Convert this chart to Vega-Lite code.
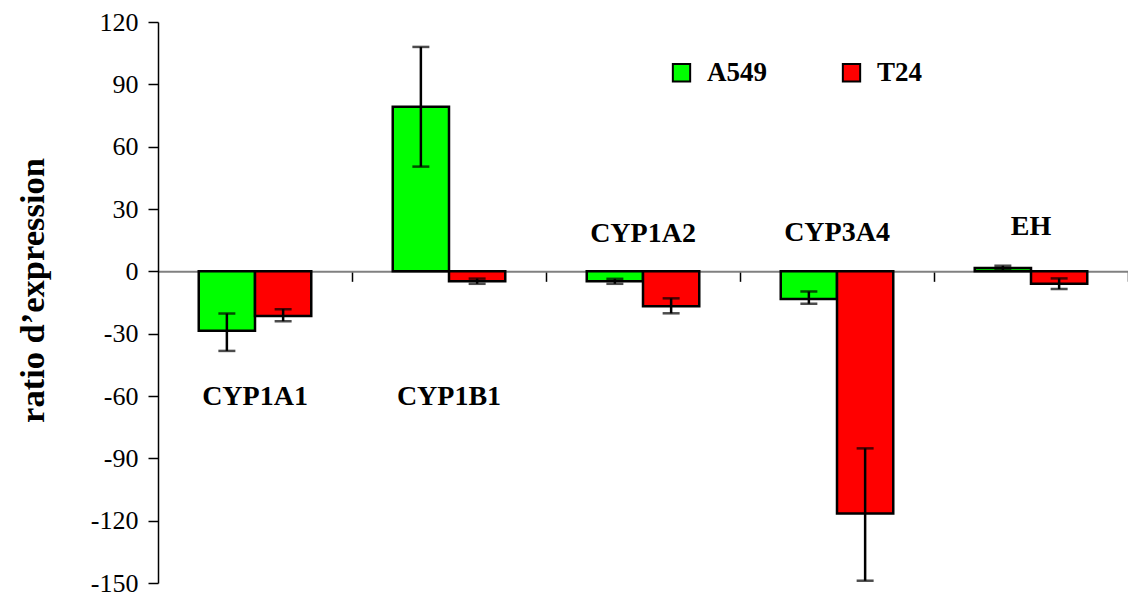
{
  "$schema": "https://vega.github.io/schema/vega-lite/v6.json",
  "width": 970,
  "height": 561,
  "autosize": {"type": "none"},
  "padding": {"left": 158, "top": 22, "right": 0, "bottom": 11},
  "background": "white",
  "config": {
    "view": {"stroke": null},
    "font": "Liberation Serif",
    "legend": {
      "orient": "none", "legendX": 510, "legendY": 37, "direction": "horizontal", "columns": 2,
      "symbolType": "square", "symbolSize": 300, "symbolStrokeColor": "black", "symbolStrokeWidth": 2,
      "labelFont": "Liberation Serif", "labelFontSize": 27, "labelFontWeight": "bold", "labelColor": "black",
      "columnPadding": 71, "labelOffset": 12, "padding": 0, "title": null
    }
  },
  "datasets": {
    "bars": [
      {"gene": "CYP1A1", "line": "A549", "value": -28.6, "lo": -38.3, "hi": -20.3},
      {"gene": "CYP1A1", "line": "T24", "value": -21.5, "lo": -24.0, "hi": -18.2},
      {"gene": "CYP1B1", "line": "A549", "value": 79.2, "lo": 50.4, "hi": 108.0},
      {"gene": "CYP1B1", "line": "T24", "value": -4.8, "lo": -6.0, "hi": -3.5},
      {"gene": "CYP1A2", "line": "A549", "value": -4.8, "lo": -6.0, "hi": -3.6},
      {"gene": "CYP1A2", "line": "T24", "value": -16.8, "lo": -20.2, "hi": -13.0},
      {"gene": "CYP3A4", "line": "A549", "value": -13.3, "lo": -15.6, "hi": -9.7},
      {"gene": "CYP3A4", "line": "T24", "value": -116.6, "lo": -148.9, "hi": -85.2},
      {"gene": "EH", "line": "A549", "value": 1.6, "lo": 0.5, "hi": 2.7},
      {"gene": "EH", "line": "T24", "value": -6.0, "lo": -8.5, "hi": -3.4}
    ],
    "labels": [
      {"gene": "CYP1A1", "ly": -60.5},
      {"gene": "CYP1B1", "ly": -60.5},
      {"gene": "CYP1A2", "ly": 18},
      {"gene": "CYP3A4", "ly": 18.5},
      {"gene": "EH", "ly": 21.5}
    ]
  },
  "layer": [
    {
      "data": {"name": "bars"},
      "mark": {"type": "bar", "stroke": "black", "strokeWidth": 2.5},
      "encoding": {
        "x": {
          "field": "gene", "type": "nominal",
          "scale": {"domain": ["CYP1A1", "CYP1B1", "CYP1A2", "CYP3A4", "EH"], "paddingInner": 0.42, "paddingOuter": 0.21},
          "axis": {
            "orient": "bottom", "offset": -311.67, "labels": false, "title": null,
            "domainColor": "#808080", "domainWidth": 2, "tickColor": "black", "tickSize": 10, "tickWidth": 1.5,
            "bandPosition": 1, "tickOffset": 40.7
          }
        },
        "xOffset": {"field": "line", "type": "nominal", "scale": {"domain": ["A549", "T24"], "paddingInner": 0, "paddingOuter": 0}},
        "y": {
          "field": "value", "type": "quantitative",
          "scale": {"domain": [-150, 120], "nice": false},
          "axis": {
            "title": "ratio d’expression", "titleFont": "Liberation Serif", "titleFontSize": 34.5, "titleFontWeight": "bold",
            "titleColor": "black", "titlePadding": 40, "titleY": 268,
            "values": [-150, -120, -90, -60, -30, 0, 30, 60, 90, 120],
            "labelExpr": "replace(datum.label, '−', '-')",
            "labelFont": "Liberation Serif", "labelFontSize": 26, "labelColor": "black", "labelPadding": 10,
            "tickSize": 10, "tickColor": "black", "tickWidth": 1.5, "domainColor": "black", "domainWidth": 1.5, "grid": false
          }
        },
        "color": {"field": "line", "type": "nominal", "scale": {"domain": ["A549", "T24"], "range": ["#00FF00", "#FF0000"]}}
      }
    },
    {
      "data": {"name": "bars"},
      "mark": {"type": "rule", "color": "black", "strokeWidth": 2.5},
      "encoding": {
        "x": {"field": "gene", "type": "nominal"},
        "xOffset": {"field": "line", "type": "nominal"},
        "y": {"field": "lo", "type": "quantitative", "title": "ratio d’expression"},
        "y2": {"field": "hi"}
      }
    },
    {
      "data": {"name": "bars"},
      "mark": {"type": "tick", "color": "black", "size": 17, "thickness": 2.5},
      "encoding": {
        "x": {"field": "gene", "type": "nominal"},
        "xOffset": {"field": "line", "type": "nominal"},
        "y": {"field": "lo", "type": "quantitative", "title": "ratio d’expression"}
      }
    },
    {
      "data": {"name": "bars"},
      "mark": {"type": "tick", "color": "black", "size": 17, "thickness": 2.5},
      "encoding": {
        "x": {"field": "gene", "type": "nominal"},
        "xOffset": {"field": "line", "type": "nominal"},
        "y": {"field": "hi", "type": "quantitative", "title": "ratio d’expression"}
      }
    },
    {
      "data": {"name": "labels"},
      "mark": {"type": "text", "font": "Liberation Serif", "fontSize": 28, "fontWeight": "bold", "color": "black", "baseline": "middle"},
      "encoding": {
        "x": {"field": "gene", "type": "nominal"},
        "y": {"field": "ly", "type": "quantitative", "title": "ratio d’expression"},
        "text": {"field": "gene"}
      }
    }
  ]
}
